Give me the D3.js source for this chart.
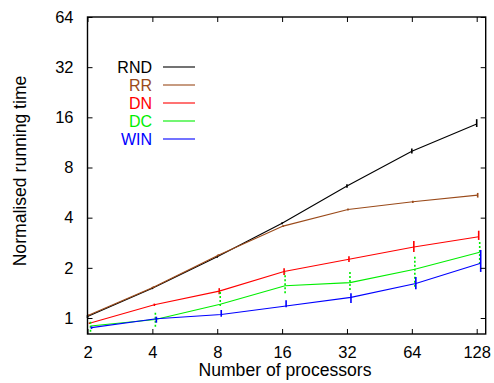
<!DOCTYPE html>
<html><head><meta charset="utf-8">
<script src="https://cdn.jsdelivr.net/npm/d3@7"></script>
<style>
body{margin:0;background:#fff;}
text{font-family:"Liberation Sans",Arial,sans-serif;}
</style></head>
<body><svg id="c" width="494" height="383"></svg>
<script>
const processors = [2, 4, 8, 16, 32, 64, 128];
const xTicks = [2, 4, 8, 16, 32, 64, 128];
const yTicks = [1, 2, 4, 8, 16, 32, 64];
const seriesNames = ["RND", "RR", "DN", "DC", "WIN"];
const seriesColors = ["#000000", "#9a4a1a", "#ff0000", "#00ee00", "#0000ff"];
const rndMean = [1.02, 1.51, 2.33, 3.70, 6.2, 10.0, 14.6];
const rndLow  = [1.00, 1.49, 2.30, 3.65, 6.05, 9.7, 14.0];
const rndHigh = [1.04, 1.53, 2.36, 3.75, 6.35, 10.4, 15.6];
const rrMean = [1.04, 1.53, 2.38, 3.56, 4.48, 4.98, 5.46];
const rrLow  = [1.03, 1.51, 2.35, 3.52, 4.42, 4.90, 5.28];
const rrHigh = [1.05, 1.55, 2.41, 3.60, 4.54, 5.06, 5.63];
const dnMean = [0.93, 1.20, 1.45, 1.90, 2.25, 2.67, 3.07];
const dnLow  = [0.92, 1.18, 1.39, 1.81, 2.17, 2.49, 2.94];
const dnHigh = [0.94, 1.22, 1.51, 1.99, 2.35, 2.90, 3.34];
const dcMean = [0.895, 0.98, 1.21, 1.56, 1.63, 1.96, 2.48];
const dcLow  = [0.828, 0.887, 1.18, 1.41, 1.47, 1.54, 2.11];
const dcHigh = [0.973, 1.09, 1.47, 1.87, 1.91, 2.33, 2.94];
const winMean = [0.875, 0.99, 1.05, 1.18, 1.33, 1.61, 2.13];
const winLow  = [0.86, 0.937, 1.018, 1.16, 1.23, 1.49, 1.89];
const winHigh = [0.89, 1.018, 1.117, 1.28, 1.41, 1.76, 2.56];
const xLabel = "Number of processors";
const yLabel = "Normalised running time";

const series = [
  {name:"RND", mean:rndMean, low:rndLow, high:rndHigh},
  {name:"RR", mean:rrMean, low:rrLow, high:rrHigh},
  {name:"DN", mean:dnMean, low:dnLow, high:dnHigh},
  {name:"DC", mean:dcMean, low:dcLow, high:dcHigh},
  {name:"WIN", mean:winMean, low:winLow, high:winHigh}
];
const xOffsets = [0, 1, 2, 3, 4];

const L = 87.5, R = 485.7, T = 17, B = 334;
const pxPerOct = (476.7 - 87.5) / 6;
const yPerOct = (318 - 17) / 6;
const x = d3.scaleLog().base(2).domain([2, 128 * Math.pow(2, (R - 476.7) / pxPerOct)]).range([L, R]);
const y = d3.scaleLog().base(2).domain([Math.pow(2, -(B - 318) / yPerOct), 64]).range([B, T]);

const svg = d3.select("#c");
const fs = 16.5, fsTitle = 17.6, fsLeg = 16;

// series
series.forEach((s, i) => {
  const g = svg.append("g").attr("transform", `translate(${xOffsets[i]},0)`);
  const line = d3.line().x((d, j) => x(processors[j])).y(d => y(d));
  g.append("path").attr("d", line(s.mean)).attr("fill", "none")
    .attr("stroke", seriesColors[i]).attr("stroke-width", 1.1);
  g.selectAll("line.err").data(processors).enter().append("line")
    .attr("x1", d => x(d)).attr("x2", d => x(d))
    .attr("y1", (d, j) => y(s.low[j])).attr("y2", (d, j) => y(s.high[j]))
    .attr("stroke", seriesColors[i]).attr("stroke-width", 1.6)
    .attr("stroke-dasharray", s.name === "DC" ? "2,2" : null);
});

// frame & ticks
svg.append("rect").attr("x", L).attr("y", T).attr("width", R - L).attr("height", B - T)
  .attr("fill", "none").attr("stroke", "#000").attr("stroke-width", 1.4);

const xAxisB = d3.axisBottom(x).tickValues(xTicks).tickSize(-5).tickPadding(12).tickFormat(d3.format("d"));
const gxb = svg.append("g").attr("transform", `translate(0,${B})`).call(xAxisB);
const xAxisT = d3.axisTop(x).tickValues(xTicks).tickSize(-5).tickFormat("");
const gxt = svg.append("g").attr("transform", `translate(0,${T})`).call(xAxisT);
const yAxisL = d3.axisLeft(y).tickValues(yTicks).tickSize(-5).tickPadding(14).tickFormat(d3.format("d"));
const gyl = svg.append("g").attr("transform", `translate(${L},0)`).call(yAxisL);
const yAxisR = d3.axisRight(y).tickValues(yTicks).tickSize(-5).tickFormat("");
const gyr = svg.append("g").attr("transform", `translate(${R},0)`).call(yAxisR);
[gxb, gxt, gyl, gyr].forEach(g => {
  g.select(".domain").remove();
  g.selectAll(".tick line").attr("stroke", "#000").attr("stroke-width", 1);
  g.selectAll("text").attr("font-size", fs).attr("font-family", "Liberation Sans, Arial, sans-serif").attr("fill", "#000");
});

// axis labels
svg.append("text").attr("x", 285).attr("y", 376).attr("text-anchor", "middle")
  .attr("font-size", fsTitle).text(xLabel);
svg.append("text").attr("transform", "translate(26,171) rotate(-90)").attr("text-anchor", "middle")
  .attr("font-size", fsTitle).text(yLabel);

// legend
const legY = [67, 85, 103, 121, 139];
series.forEach((s, i) => {
  svg.append("text").attr("x", 152).attr("y", legY[i]).attr("dy", "0.35em")
    .attr("text-anchor", "end").attr("font-size", fsLeg).attr("fill", seriesColors[i]).text(s.name);
  svg.append("line").attr("x1", 163).attr("x2", 195).attr("y1", legY[i]).attr("y2", legY[i])
    .attr("stroke", seriesColors[i]).attr("stroke-width", 1.1);
});
</script></body></html>
